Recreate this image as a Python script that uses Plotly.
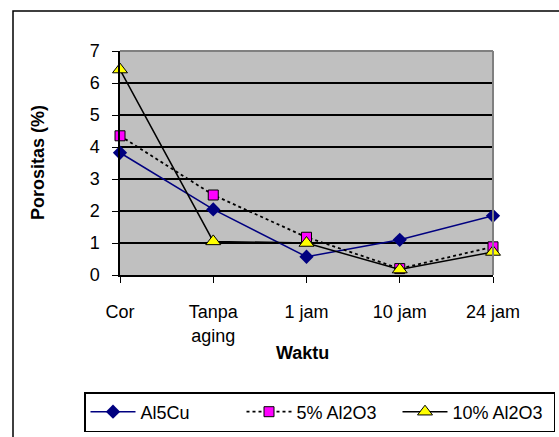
import plotly.graph_objects as go

categories = ["Cor", "Tanpa<br>aging", "1 jam", "10 jam", "24 jam"]
al5cu = [3.82, 2.05, 0.57, 1.1, 1.85]
al2o3_5 = [4.35, 2.5, 1.18, 0.2, 0.88]
al2o3_10 = [6.42, 1.05, 1.0, 0.17, 0.72]
yticks = [0, 1, 2, 3, 4, 5, 6, 7]

W, H = 559, 437
L, R, T, B = 120, 66, 51, 162
pw, ph = W - L - R, H - T - B

def px(x):
    return (x - L) / pw

def py(y):
    return (H - B - y) / ph

FONT = "Liberation Sans, Arial, sans-serif"
FS = 18

fig = go.Figure()
fig.add_trace(go.Scatter(x=categories, y=al5cu, name="Al5Cu", mode="lines+markers",
                         line=dict(color="#000080", width=1.5),
                         marker=dict(symbol="diamond", size=11, color="#000080"),
                         cliponaxis=False))
fig.add_trace(go.Scatter(x=categories, y=al2o3_5, name="5% Al2O3", mode="lines+markers",
                         line=dict(color="black", width=1.8, dash="dot"),
                         marker=dict(symbol="square", size=10, color="#FF00FF",
                                     line=dict(color="black", width=1)),
                         cliponaxis=False))
fig.add_trace(go.Scatter(x=categories, y=al2o3_10, name="10% Al2O3", mode="lines+markers",
                         line=dict(color="black", width=1.5),
                         marker=dict(symbol="triangle-up", size=13, color="#FFFF00",
                                     line=dict(color="black", width=1)),
                         cliponaxis=False))

fig.update_layout(
    width=W, height=H,
    margin=dict(l=L, r=R, t=T, b=B, autoexpand=False),
    paper_bgcolor="white", plot_bgcolor="#C0C0C0",
    font=dict(family=FONT, size=FS, color="black"),
    showlegend=True,
    legend=dict(orientation="h", x=px(84), y=py(412), xanchor="left", yanchor="middle",
                bordercolor="black", borderwidth=1.5, bgcolor="white",
                font=dict(size=FS, family=FONT), itemwidth=45,
                entrywidth=96, entrywidthmode="pixels", traceorder="normal"),
    xaxis=dict(type="category", range=[0, 4], showgrid=False, zeroline=False,
               showline=True, linecolor="black", linewidth=1.5,
               ticks="outside", ticklen=6, tickcolor="black",
               tickfont=dict(size=FS), ticklabelstandoff=14, fixedrange=True),
    yaxis=dict(range=[0, 7], tickvals=yticks, showgrid=True, gridcolor="black",
               gridwidth=1.5, zeroline=False, showline=True, linecolor="black",
               linewidth=1.5, ticks="outside", ticklen=6, tickcolor="black",
               tickfont=dict(size=FS), ticklabelstandoff=9),
    shapes=[
        dict(type="rect", xref="paper", yref="paper", x0=px(13), x1=px(600),
             y0=py(600), y1=py(11), line=dict(color="black", width=1.5), layer="below"),
        dict(type="line", xref="paper", yref="paper", x0=0, x1=1, y0=1, y1=1,
             line=dict(color="#808080", width=2)),
        dict(type="line", xref="paper", yref="paper", x0=1, x1=1, y0=0, y1=1,
             line=dict(color="#808080", width=2)),
    ],
    annotations=[
        dict(text="<b>Porositas (%)</b>", xref="paper", yref="paper", x=px(38), y=py(163),
             xanchor="center", yanchor="middle",
             textangle=-90, showarrow=False, font=dict(size=FS, family=FONT)),
        dict(text="<b>Waktu</b>", xref="paper", yref="paper", x=px(302), y=py(353),
             xanchor="center", yanchor="middle",
             showarrow=False, font=dict(size=FS, family=FONT)),
    ],
)

fig.write_html("out.html")
